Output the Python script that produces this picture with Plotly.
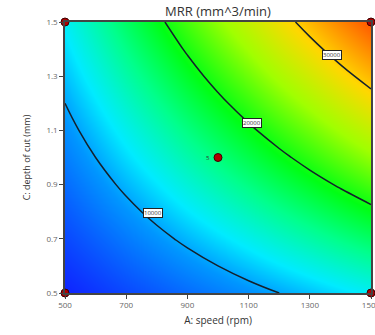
import plotly.graph_objects as go

# Factor levels (grid)
speed = [500, 600, 700, 800, 900, 1000, 1100, 1200, 1300, 1400, 1500]
depth = [0.5, 0.6, 0.7, 0.8, 0.9, 1.0, 1.1, 1.2, 1.3, 1.4, 1.5]

# MRR (mm^3/min) estimated on the grid, rows = depth, cols = speed
mrr = [
    [4531, 5313, 6094, 6875, 7656, 8438, 9219, 10000, 10781, 11563, 12344],
    [5313, 6250, 7188, 8125, 9063, 10000, 10938, 11875, 12813, 13750, 14688],
    [6094, 7188, 8281, 9375, 10469, 11563, 12656, 13750, 14844, 15938, 17031],
    [6875, 8125, 9375, 10625, 11875, 13125, 14375, 15625, 16875, 18125, 19375],
    [7656, 9063, 10469, 11875, 13281, 14688, 16094, 17500, 18906, 20313, 21719],
    [8438, 10000, 11563, 13125, 14688, 16250, 17813, 19375, 20938, 22500, 24063],
    [9219, 10938, 12656, 14375, 16094, 17813, 19531, 21250, 22969, 24688, 26406],
    [10000, 11875, 13750, 15625, 17500, 19375, 21250, 23125, 25000, 26875, 28750],
    [10781, 12813, 14844, 16875, 18906, 20938, 22969, 25000, 27031, 29063, 31094],
    [11563, 13750, 15938, 18125, 20313, 22500, 24688, 26875, 29063, 31250, 33438],
    [12344, 14688, 17031, 19375, 21719, 24063, 26406, 28750, 31094, 33438, 35781],
]

# Contour levels and label positions
levels = [10000, 20000, 30000]
label_speed = [787, 1111, 1373]
label_depth = [0.795, 1.127, 1.378]

# Design points
pt_speed = [500, 500, 1500, 1500, 1000]
pt_depth = [0.5, 1.5, 0.5, 1.5, 1.0]
center_reps = "5"

xticks = [500, 700, 900, 1100, 1300, 1500]
yticks = [0.5, 0.7, 0.9, 1.1, 1.3, 1.5]

cscale = [
    [0.0, "rgb(15,35,255)"],
    [0.16, "rgb(0,150,255)"],
    [0.24, "rgb(0,235,255)"],
    [0.36, "rgb(0,255,140)"],
    [0.48, "rgb(0,255,20)"],
    [0.64, "rgb(160,255,0)"],
    [0.8, "rgb(255,215,0)"],
    [1.0, "rgb(255,85,0)"],
]

fig = go.Figure()
fig.add_trace(go.Heatmap(x=speed, y=depth, z=mrr, zsmooth="best",
                         colorscale=cscale, showscale=False, hoverinfo="skip"))
fig.add_trace(go.Contour(x=speed, y=depth, z=mrr,
                         contours=dict(coloring="none", start=levels[0], end=levels[-1],
                                       size=levels[1] - levels[0]),
                         line=dict(color="#14202c", width=1.5, smoothing=1.3),
                         showscale=False, hoverinfo="skip"))
fig.add_trace(go.Scatter(x=pt_speed, y=pt_depth, mode="markers",
                         marker=dict(size=8, color="#b00000", line=dict(color="#3a0000", width=1)),
                         cliponaxis=False, hoverinfo="skip"))

for lv, sx, dy in zip(levels, label_speed, label_depth):
    fig.add_annotation(x=sx, y=dy, text=str(lv), showarrow=False,
                       font=dict(size=6, color="#333", family="Open Sans"),
                       bgcolor="white", bordercolor="#222", borderwidth=1, borderpad=0)

fig.add_annotation(x=pt_speed[-1], y=pt_depth[-1], text=center_reps, showarrow=False,
                   xshift=-10, font=dict(size=6, color="#333", family="Open Sans"))

axis_common = dict(showgrid=False, zeroline=False, showline=True, linecolor="#444",
                   linewidth=1.5, mirror=True, ticks="outside", ticklen=4,
                   tickcolor="#444", ticklabeloverflow="allow", automargin=False,
                   tickfont=dict(size=8, color="#666", family="Open Sans"))

fig.update_layout(
    width=375, height=335,
    margin=dict(l=65, r=4, t=22, b=42, autoexpand=False),
    paper_bgcolor="white", plot_bgcolor="white",
    showlegend=False,
    title=dict(text="MRR (mm^3/min)", x=0.5, xref="paper", y=0.965, yanchor="middle",
               font=dict(size=13, color="#333", family="Open Sans")),
    xaxis=dict(range=[500, 1500], tickvals=xticks, title=dict(text="A: speed (rpm)",
               font=dict(size=10, color="#333", family="Open Sans"), standoff=8), **axis_common),
    yaxis=dict(range=[0.5, 1.5], tickvals=yticks, tickformat=".1f",
               title=dict(text="C: depth of cut (mm)",
               font=dict(size=9, color="#333", family="Open Sans"), standoff=14), **axis_common),
)

fig.write_html("out.html")
